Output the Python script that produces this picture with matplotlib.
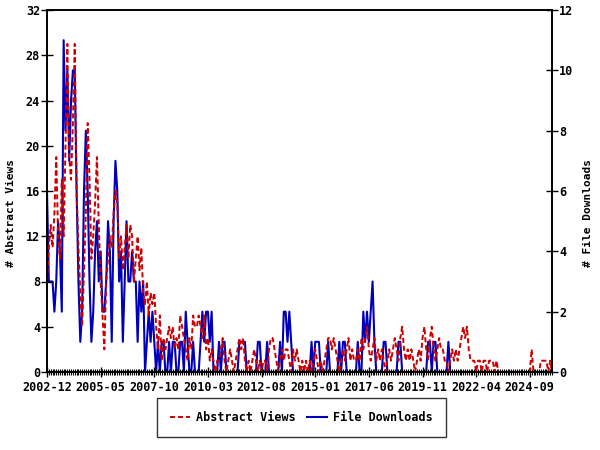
import numpy as np
import matplotlib.pyplot as plt
from matplotlib.ticker import MultipleLocator

# monthly counts, first month 2002-12
tick_labels = ["2002-12", "2005-05", "2007-10", "2010-03", "2012-08",
               "2015-01", "2017-06", "2019-11", "2022-04", "2024-09"]
tick_step = 29

abstract_views = [
    8, 11, 13, 11, 14, 19, 12, 10, 17,
    12, 20, 29, 19, 17, 22, 29, 16, 11, 7, 4, 9,
    14, 22, 17, 10, 12, 15, 19, 13, 8, 5, 2, 8,
    10, 12, 11, 14, 16, 15, 10, 12, 9, 11, 13, 10,
    13, 12, 8, 10, 12, 9, 11, 7, 6, 8, 5, 7,
    6, 7, 4, 2, 5, 1, 3, 2, 3, 4, 3, 4, 2,
    3, 2, 5, 4, 3, 2, 1, 3, 2, 5, 4, 4,
    5, 4, 3, 5, 2, 3, 1, 2, 1, 0, 1, 1,
    2, 3, 1, 0, 1, 2, 1, 0, 1, 2, 3, 2,
    3, 1, 0, 1, 0, 1, 2, 1, 0, 1, 0, 1,
    1, 0, 2, 3, 3, 2, 1, 0, 1, 2, 1, 2,
    2, 1, 0, 2, 1, 2, 1, 0, 1, 0, 1, 0, 1,
    0, 1, 2, 1, 0, 1, 0, 1, 2, 3, 3, 2,
    3, 2, 1, 0, 1, 2, 1, 2, 3, 1, 2, 1,
    1, 2, 1, 3, 2, 3, 4, 2, 1, 2, 3, 1,
    2, 1, 2, 1, 0, 1, 2, 1, 2, 3, 2, 1,
    3, 4, 2, 1, 2, 1, 2, 1, 0, 1, 2, 1,
    3, 4, 2, 1, 3, 4, 2, 1, 2, 3, 2, 2, 1,
    1, 0, 1, 2, 1, 2, 1, 2, 3, 4, 3, 4,
    2, 1, 1, 1, 0, 1, 1, 0, 1, 1, 0, 1,
    1, 1, 0, 1, 0, 0, 0, 0, 0, 0, 0, 0,
    0, 0, 0, 0, 0, 0, 0, 0, 0, 0, 2, 0,
    0, 0, 0, 1, 1, 1, 1, 0, 1, 0,
]

file_downloads = [
    6, 3, 3, 3, 2, 3, 5, 4, 2,
    11, 8, 10, 7, 9, 10, 10, 6, 3, 1, 2, 6,
    8, 6, 3, 1, 2, 4, 5, 3, 4, 2, 2, 3,
    5, 4, 1, 5, 7, 6, 3, 4, 1, 3, 5, 3,
    3, 4, 3, 3, 1, 3, 2, 3, 0, 1, 2, 1,
    2, 1, 0, 1, 0, 1, 1, 0, 0, 1, 0, 1, 1,
    0, 0, 1, 1, 0, 2, 1, 0, 0, 1, 0, 0,
    0, 1, 2, 1, 2, 2, 1, 2, 0, 0, 0, 1,
    0, 1, 1, 0, 0, 0, 0, 0, 0, 0, 1, 1,
    1, 1, 0, 0, 0, 0, 0, 0, 1, 1, 0, 0,
    0, 1, 0, 0, 0, 0, 0, 0, 1, 0, 2, 2,
    1, 2, 1, 0, 0, 0, 0, 0, 0, 0, 0, 0, 0,
    1, 0, 1, 1, 1, 0, 0, 0, 0, 1, 0, 0,
    0, 0, 0, 1, 0, 1, 1, 0, 0, 0, 0, 0,
    0, 1, 0, 0, 2, 1, 2, 1, 2, 3, 1, 0,
    0, 0, 0, 1, 1, 0, 0, 0, 0, 0, 0, 1,
    1, 0, 0, 0, 0, 0, 0, 0, 0, 0, 0, 0,
    0, 0, 0, 1, 1, 0, 1, 1, 0, 0, 0, 0, 0,
    0, 1, 0, 0, 0, 0, 0, 0, 0, 0, 0, 0,
] + [0] * 46

months = np.arange(len(abstract_views))

font = {"family": "DejaVu Sans Mono", "weight": "bold", "size": 8.5}
label_font = dict(font, size=8)
red = "#cc0000"
blue = "#0000bb"

fig = plt.figure(figsize=(6, 4.5), dpi=100)
ax = fig.add_axes([47 / 600, 1 - 372 / 450, 505 / 600, 362 / 450])
ax2 = ax.twinx()

l1, = ax.plot(months, abstract_views, color=red, linewidth=1.4,
              linestyle=(0, (2.6, 1.5)), label="Abstract Views")
l2, = ax2.plot(months, file_downloads, color=blue, linewidth=1.5,
               label="File Downloads")
ax.set_zorder(ax2.get_zorder() + 1)
ax.patch.set_visible(False)

ax.set_xlim(0, len(months) - 1)
ax.set_ylim(0, 32)
ax2.set_ylim(0, 12)
ax.set_yticks(np.arange(0, 33, 4))
ax2.set_yticks(np.arange(0, 13, 2))
ax.set_xticks(np.arange(len(tick_labels)) * tick_step)
ax.set_xticklabels(tick_labels)
ax.xaxis.set_minor_locator(MultipleLocator(1))

for a in (ax, ax2):
    for s in a.spines.values():
        s.set_linewidth(1.2)
    a.tick_params(axis="y", direction="inout", length=8, width=1, pad=1)
    for lab in a.get_yticklabels():
        lab.set(**font)
ax.tick_params(axis="x", which="major", direction="inout", length=7, width=1, pad=3)
ax.tick_params(axis="x", which="minor", direction="inout", length=4, width=0.8)
for lab in ax.get_xticklabels():
    lab.set(**font)

ax.set_ylabel("# Abstract Views", **label_font)
ax2.set_ylabel("# File Downloads", **label_font)
ax.yaxis.set_label_coords(-0.062, 0.44)
ax2.yaxis.set_label_coords(1.062, 0.44)

leg = fig.legend(handles=[l1, l2], loc="center", bbox_to_anchor=(0.502, 0.072),
                 ncol=2, frameon=True, fancybox=False, borderpad=1.1,
                 handlelength=1.7, handletextpad=0.5, columnspacing=1.0,
                 prop=font)
leg.get_frame().set_edgecolor("black")
leg.get_frame().set_linewidth(1.0)

fig.savefig("out.png", dpi=100)
